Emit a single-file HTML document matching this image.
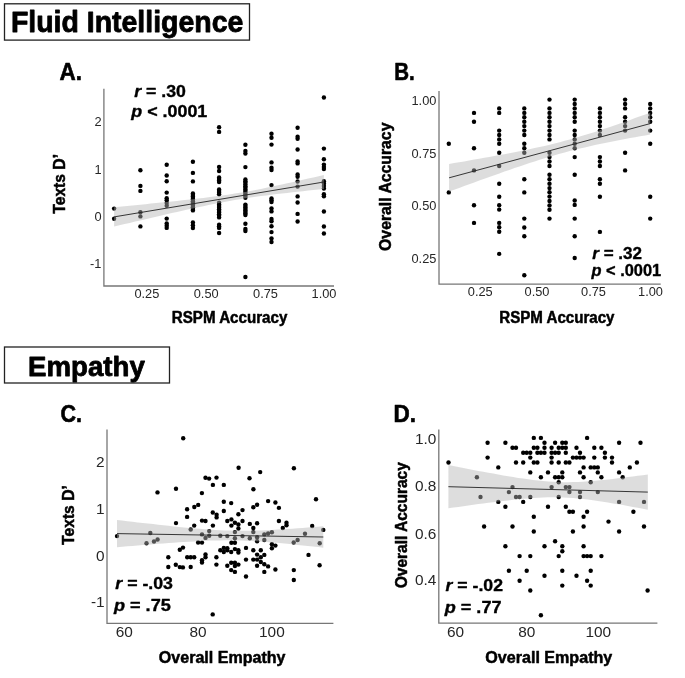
<!DOCTYPE html>
<html><head><meta charset="utf-8"><title>Fluid Intelligence and Empathy</title>
<style>
html,body{margin:0;padding:0;background:#fff;}
body{width:685px;height:678px;overflow:hidden;}
svg{display:block;}
text{white-space:pre;}
</style></head>
<body>
<svg width="685" height="678" viewBox="0 0 685 678">
<rect width="685" height="678" fill="#fff"/>
<rect x="4.5" y="3.8" width="245" height="36.3" fill="none" stroke="#222" stroke-width="1.3"/>
<text x="10.9" y="32.4" font-size="29" font-family="Liberation Sans, Arial, sans-serif" font-weight="bold" stroke="#000" stroke-linejoin="round" stroke-width="0.8" fill="#000" text-anchor="start" textLength="232.4" lengthAdjust="spacingAndGlyphs" >Fluid Intelligence</text>
<rect x="4.5" y="347" width="165" height="36" fill="none" stroke="#222" stroke-width="1.3"/>
<text x="28.0" y="375.5" font-size="28" font-family="Liberation Sans, Arial, sans-serif" font-weight="bold" stroke="#000" stroke-linejoin="round" stroke-width="0.8" fill="#000" text-anchor="start" textLength="116.8" lengthAdjust="spacingAndGlyphs" >Empathy</text>
<text x="59.4" y="80.4" font-size="23" font-family="Liberation Sans, Arial, sans-serif" font-weight="bold" stroke="#000" stroke-linejoin="round" stroke-width="0.6" fill="#000" text-anchor="start" textLength="22.5" lengthAdjust="spacingAndGlyphs" >A.</text>
<text x="394.2" y="80.2" font-size="23" font-family="Liberation Sans, Arial, sans-serif" font-weight="bold" stroke="#000" stroke-linejoin="round" stroke-width="0.6" fill="#000" text-anchor="start" textLength="20.5" lengthAdjust="spacingAndGlyphs" >B.</text>
<text x="60.5" y="422.3" font-size="23" font-family="Liberation Sans, Arial, sans-serif" font-weight="bold" stroke="#000" stroke-linejoin="round" stroke-width="0.6" fill="#000" text-anchor="start" textLength="21.5" lengthAdjust="spacingAndGlyphs" >C.</text>
<text x="393.4" y="422.3" font-size="23" font-family="Liberation Sans, Arial, sans-serif" font-weight="bold" stroke="#000" stroke-linejoin="round" stroke-width="0.6" fill="#000" text-anchor="start" textLength="22.5" lengthAdjust="spacingAndGlyphs" >D.</text>
<path d="M103.9,88.7 L103.9,286.0 L334,286.0" fill="none" stroke="#777777" stroke-width="1.3"/>
<g fill="#000">
<circle cx="114.1" cy="208.6" r="2.2"/>
<circle cx="114.1" cy="218.8" r="2.2"/>
<circle cx="140.4" cy="170.2" r="2.2"/>
<circle cx="140.4" cy="185.9" r="2.2"/>
<circle cx="140.4" cy="190.9" r="2.2"/>
<circle cx="140.4" cy="212.3" r="2.2"/>
<circle cx="140.4" cy="216.4" r="2.2"/>
<circle cx="140.4" cy="226.4" r="2.2"/>
<circle cx="166.7" cy="164.8" r="2.2"/>
<circle cx="166.7" cy="175.5" r="2.2"/>
<circle cx="166.7" cy="181.2" r="2.2"/>
<circle cx="166.7" cy="192.6" r="2.2"/>
<circle cx="166.7" cy="198.3" r="2.2"/>
<circle cx="166.7" cy="200.2" r="2.2"/>
<circle cx="166.7" cy="202.9" r="2.2"/>
<circle cx="166.7" cy="205.8" r="2.2"/>
<circle cx="166.7" cy="218.6" r="2.2"/>
<circle cx="166.7" cy="223.5" r="2.2"/>
<circle cx="166.7" cy="225.7" r="2.2"/>
<circle cx="166.7" cy="227.9" r="2.2"/>
<circle cx="192.9" cy="161.8" r="2.2"/>
<circle cx="192.9" cy="172.9" r="2.2"/>
<circle cx="192.9" cy="181.4" r="2.2"/>
<circle cx="192.9" cy="193.5" r="2.2"/>
<circle cx="192.9" cy="195.0" r="2.2"/>
<circle cx="192.9" cy="196.6" r="2.2"/>
<circle cx="192.9" cy="198.1" r="2.2"/>
<circle cx="192.9" cy="199.6" r="2.2"/>
<circle cx="192.9" cy="201.2" r="2.2"/>
<circle cx="192.9" cy="202.7" r="2.2"/>
<circle cx="192.9" cy="204.3" r="2.2"/>
<circle cx="192.9" cy="205.8" r="2.2"/>
<circle cx="192.9" cy="207.3" r="2.2"/>
<circle cx="192.9" cy="208.9" r="2.2"/>
<circle cx="192.9" cy="210.4" r="2.2"/>
<circle cx="192.9" cy="222.5" r="2.2"/>
<circle cx="192.9" cy="225.2" r="2.2"/>
<circle cx="192.9" cy="228.0" r="2.2"/>
<circle cx="219.1" cy="127.2" r="2.2"/>
<circle cx="219.1" cy="131.9" r="2.2"/>
<circle cx="219.1" cy="167.0" r="2.2"/>
<circle cx="219.1" cy="171.0" r="2.2"/>
<circle cx="219.1" cy="177.5" r="2.2"/>
<circle cx="219.1" cy="179.0" r="2.2"/>
<circle cx="219.1" cy="180.6" r="2.2"/>
<circle cx="219.1" cy="182.1" r="2.2"/>
<circle cx="219.1" cy="189.4" r="2.2"/>
<circle cx="219.1" cy="191.0" r="2.2"/>
<circle cx="219.1" cy="192.7" r="2.2"/>
<circle cx="219.1" cy="194.3" r="2.2"/>
<circle cx="219.1" cy="202.8" r="2.2"/>
<circle cx="219.1" cy="204.4" r="2.2"/>
<circle cx="219.1" cy="206.0" r="2.2"/>
<circle cx="219.1" cy="207.7" r="2.2"/>
<circle cx="219.1" cy="209.3" r="2.2"/>
<circle cx="219.1" cy="210.9" r="2.2"/>
<circle cx="219.1" cy="212.5" r="2.2"/>
<circle cx="219.1" cy="214.2" r="2.2"/>
<circle cx="219.1" cy="215.8" r="2.2"/>
<circle cx="219.1" cy="217.4" r="2.2"/>
<circle cx="219.1" cy="224.7" r="2.2"/>
<circle cx="219.1" cy="226.3" r="2.2"/>
<circle cx="219.1" cy="227.9" r="2.2"/>
<circle cx="219.1" cy="233.0" r="2.2"/>
<circle cx="245.4" cy="144.8" r="2.2"/>
<circle cx="245.4" cy="151.0" r="2.2"/>
<circle cx="245.4" cy="153.5" r="2.2"/>
<circle cx="245.4" cy="167.1" r="2.2"/>
<circle cx="245.4" cy="179.5" r="2.2"/>
<circle cx="245.4" cy="181.2" r="2.2"/>
<circle cx="245.4" cy="182.8" r="2.2"/>
<circle cx="245.4" cy="184.5" r="2.2"/>
<circle cx="245.4" cy="186.2" r="2.2"/>
<circle cx="245.4" cy="187.8" r="2.2"/>
<circle cx="245.4" cy="189.5" r="2.2"/>
<circle cx="245.4" cy="191.1" r="2.2"/>
<circle cx="245.4" cy="192.8" r="2.2"/>
<circle cx="245.4" cy="194.5" r="2.2"/>
<circle cx="245.4" cy="196.1" r="2.2"/>
<circle cx="245.4" cy="197.8" r="2.2"/>
<circle cx="245.4" cy="204.6" r="2.2"/>
<circle cx="245.4" cy="206.1" r="2.2"/>
<circle cx="245.4" cy="207.6" r="2.2"/>
<circle cx="245.4" cy="209.1" r="2.2"/>
<circle cx="245.4" cy="210.5" r="2.2"/>
<circle cx="245.4" cy="212.0" r="2.2"/>
<circle cx="245.4" cy="213.5" r="2.2"/>
<circle cx="245.4" cy="215.0" r="2.2"/>
<circle cx="245.4" cy="223.7" r="2.2"/>
<circle cx="245.4" cy="229.0" r="2.2"/>
<circle cx="245.4" cy="231.0" r="2.2"/>
<circle cx="245.4" cy="277.0" r="2.2"/>
<circle cx="271.5" cy="133.8" r="2.2"/>
<circle cx="271.5" cy="137.8" r="2.2"/>
<circle cx="271.5" cy="144.6" r="2.2"/>
<circle cx="271.5" cy="162.4" r="2.2"/>
<circle cx="271.5" cy="167.8" r="2.2"/>
<circle cx="271.5" cy="170.0" r="2.2"/>
<circle cx="271.5" cy="185.1" r="2.2"/>
<circle cx="271.5" cy="198.4" r="2.2"/>
<circle cx="271.5" cy="200.2" r="2.2"/>
<circle cx="271.5" cy="202.1" r="2.2"/>
<circle cx="271.5" cy="208.4" r="2.2"/>
<circle cx="271.5" cy="211.4" r="2.2"/>
<circle cx="271.5" cy="219.0" r="2.2"/>
<circle cx="271.5" cy="221.3" r="2.2"/>
<circle cx="271.5" cy="226.3" r="2.2"/>
<circle cx="271.5" cy="232.1" r="2.2"/>
<circle cx="271.5" cy="238.4" r="2.2"/>
<circle cx="271.5" cy="242.0" r="2.2"/>
<circle cx="297.6" cy="127.7" r="2.2"/>
<circle cx="297.6" cy="136.7" r="2.2"/>
<circle cx="297.6" cy="138.7" r="2.2"/>
<circle cx="297.6" cy="149.5" r="2.2"/>
<circle cx="297.6" cy="161.5" r="2.2"/>
<circle cx="297.6" cy="163.4" r="2.2"/>
<circle cx="297.6" cy="174.4" r="2.2"/>
<circle cx="297.6" cy="176.7" r="2.2"/>
<circle cx="297.6" cy="181.5" r="2.2"/>
<circle cx="297.6" cy="186.6" r="2.2"/>
<circle cx="297.6" cy="196.4" r="2.2"/>
<circle cx="297.6" cy="202.5" r="2.2"/>
<circle cx="297.6" cy="213.9" r="2.2"/>
<circle cx="297.6" cy="221.5" r="2.2"/>
<circle cx="323.9" cy="97.5" r="2.2"/>
<circle cx="323.9" cy="148.6" r="2.2"/>
<circle cx="323.9" cy="159.3" r="2.2"/>
<circle cx="323.9" cy="164.6" r="2.2"/>
<circle cx="323.9" cy="166.9" r="2.2"/>
<circle cx="323.9" cy="169.1" r="2.2"/>
<circle cx="323.9" cy="181.3" r="2.2"/>
<circle cx="323.9" cy="183.6" r="2.2"/>
<circle cx="323.9" cy="185.9" r="2.2"/>
<circle cx="323.9" cy="188.5" r="2.2"/>
<circle cx="323.9" cy="194.2" r="2.2"/>
<circle cx="323.9" cy="196.3" r="2.2"/>
<circle cx="323.9" cy="211.5" r="2.2"/>
<circle cx="323.9" cy="226.5" r="2.2"/>
<circle cx="323.9" cy="233.5" r="2.2"/>
</g>
<path d="M114.1,207.3 L119.3,206.7 L124.6,206.2 L129.8,205.7 L135.1,205.2 L140.3,204.7 L145.6,204.2 L150.8,203.6 L156.1,203.1 L161.3,202.6 L166.6,202.0 L171.8,201.5 L177.0,200.9 L182.3,200.3 L187.5,199.8 L192.8,199.2 L198.0,198.6 L203.3,198.0 L208.5,197.3 L213.8,196.6 L219.0,195.9 L224.2,195.2 L229.5,194.4 L234.7,193.6 L240.0,192.8 L245.2,191.9 L250.5,190.9 L255.7,189.9 L261.0,188.9 L266.2,187.8 L271.4,186.7 L276.7,185.6 L281.9,184.5 L287.2,183.3 L292.4,182.2 L297.7,181.0 L302.9,179.8 L308.2,178.6 L313.4,177.4 L318.7,176.2 L323.9,175.0 L323.9,189.0 L318.7,189.5 L313.4,190.1 L308.2,190.6 L302.9,191.2 L297.7,191.7 L292.4,192.3 L287.2,192.9 L281.9,193.5 L276.7,194.1 L271.4,194.7 L266.2,195.4 L261.0,196.1 L255.7,196.8 L250.5,197.5 L245.2,198.3 L240.0,199.2 L234.7,200.0 L229.5,201.0 L224.2,201.9 L219.0,203.0 L213.8,204.0 L208.5,205.1 L203.3,206.2 L198.0,207.3 L192.8,208.4 L187.5,209.6 L182.3,210.8 L177.0,212.0 L171.8,213.1 L166.6,214.3 L161.3,215.5 L156.1,216.7 L150.8,218.0 L145.6,219.2 L140.3,220.4 L135.1,221.6 L129.8,222.9 L124.6,224.1 L119.3,225.3 L114.1,226.5Z" fill="#b3b3b3" fill-opacity="0.45"/>
<line x1="114.1" y1="216.9" x2="323.9" y2="182.0" stroke="#222" stroke-width="0.9"/>
<text x="101.5" y="126.3" font-size="12.8" font-family="Liberation Sans, Arial, sans-serif" fill="#262626" text-anchor="end" >2</text>
<text x="101.5" y="173.70000000000002" font-size="12.8" font-family="Liberation Sans, Arial, sans-serif" fill="#262626" text-anchor="end" >1</text>
<text x="101.5" y="221.0" font-size="12.8" font-family="Liberation Sans, Arial, sans-serif" fill="#262626" text-anchor="end" >0</text>
<text x="101.5" y="268.3" font-size="12.8" font-family="Liberation Sans, Arial, sans-serif" fill="#262626" text-anchor="end" >-1</text>
<text x="146.9" y="297.9" font-size="12.8" font-family="Liberation Sans, Arial, sans-serif" fill="#262626" text-anchor="middle" >0.25</text>
<text x="206.2" y="297.9" font-size="12.8" font-family="Liberation Sans, Arial, sans-serif" fill="#262626" text-anchor="middle" >0.50</text>
<text x="265.5" y="297.9" font-size="12.8" font-family="Liberation Sans, Arial, sans-serif" fill="#262626" text-anchor="middle" >0.75</text>
<text x="324.0" y="297.9" font-size="12.8" font-family="Liberation Sans, Arial, sans-serif" fill="#262626" text-anchor="middle" >1.00</text>
<text x="171.8" y="323.3" font-size="16" font-family="Liberation Sans, Arial, sans-serif" font-weight="bold" stroke="#000" stroke-linejoin="round" stroke-width="0.5" fill="#000" text-anchor="start" textLength="115.5" lengthAdjust="spacingAndGlyphs" >RSPM Accuracy</text>
<g transform="translate(65,213.7) rotate(-90)">
<text x="0" y="0" font-size="16" font-family="Liberation Sans, Arial, sans-serif" font-weight="bold" stroke="#000" stroke-linejoin="round" stroke-width="0.5" fill="#000" text-anchor="start" textLength="59.7" lengthAdjust="spacingAndGlyphs" >Texts D’</text>
</g>
<text x="134.2" y="97.1" font-size="16" font-family="Liberation Sans, Arial, sans-serif" font-weight="bold" stroke="#000" stroke-linejoin="round" stroke-width="0.35" textLength="51.6" lengthAdjust="spacingAndGlyphs"><tspan font-style="italic">r</tspan> = .30</text>
<text x="131.3" y="117.2" font-size="16" font-family="Liberation Sans, Arial, sans-serif" font-weight="bold" stroke="#000" stroke-linejoin="round" stroke-width="0.35" textLength="76" lengthAdjust="spacingAndGlyphs"><tspan font-style="italic">p</tspan> &lt; .0001</text>
<path d="M439,90.9 L439,284.2 L660.7,284.2" fill="none" stroke="#777777" stroke-width="1.3"/>
<g fill="#000">
<circle cx="448.8" cy="143.8" r="2.2"/>
<circle cx="448.8" cy="192.4" r="2.2"/>
<circle cx="474.0" cy="112.9" r="2.2"/>
<circle cx="474.0" cy="121.7" r="2.2"/>
<circle cx="474.0" cy="148.3" r="2.2"/>
<circle cx="474.0" cy="170.4" r="2.2"/>
<circle cx="474.0" cy="205.2" r="2.2"/>
<circle cx="474.0" cy="222.9" r="2.2"/>
<circle cx="499.2" cy="108.4" r="2.2"/>
<circle cx="499.2" cy="112.9" r="2.2"/>
<circle cx="499.2" cy="130.6" r="2.2"/>
<circle cx="499.2" cy="135.0" r="2.2"/>
<circle cx="499.2" cy="139.4" r="2.2"/>
<circle cx="499.2" cy="143.8" r="2.2"/>
<circle cx="499.2" cy="152.7" r="2.2"/>
<circle cx="499.2" cy="166.0" r="2.2"/>
<circle cx="499.2" cy="183.7" r="2.2"/>
<circle cx="499.2" cy="196.8" r="2.2"/>
<circle cx="499.2" cy="205.2" r="2.2"/>
<circle cx="499.2" cy="209.6" r="2.2"/>
<circle cx="499.2" cy="222.9" r="2.2"/>
<circle cx="499.2" cy="227.3" r="2.2"/>
<circle cx="499.2" cy="231.8" r="2.2"/>
<circle cx="499.2" cy="253.9" r="2.2"/>
<circle cx="524.3" cy="108.4" r="2.2"/>
<circle cx="524.3" cy="112.9" r="2.2"/>
<circle cx="524.3" cy="117.3" r="2.2"/>
<circle cx="524.3" cy="121.7" r="2.2"/>
<circle cx="524.3" cy="126.1" r="2.2"/>
<circle cx="524.3" cy="130.6" r="2.2"/>
<circle cx="524.3" cy="135.0" r="2.2"/>
<circle cx="524.3" cy="143.8" r="2.2"/>
<circle cx="524.3" cy="148.3" r="2.2"/>
<circle cx="524.3" cy="152.7" r="2.2"/>
<circle cx="524.3" cy="179.2" r="2.2"/>
<circle cx="524.3" cy="192.4" r="2.2"/>
<circle cx="524.3" cy="218.6" r="2.2"/>
<circle cx="524.3" cy="227.5" r="2.2"/>
<circle cx="524.3" cy="236.3" r="2.2"/>
<circle cx="524.3" cy="275.3" r="2.2"/>
<circle cx="549.5" cy="99.6" r="2.2"/>
<circle cx="549.5" cy="108.4" r="2.2"/>
<circle cx="549.5" cy="112.9" r="2.2"/>
<circle cx="549.5" cy="117.3" r="2.2"/>
<circle cx="549.5" cy="121.7" r="2.2"/>
<circle cx="549.5" cy="126.1" r="2.2"/>
<circle cx="549.5" cy="130.6" r="2.2"/>
<circle cx="549.5" cy="135.0" r="2.2"/>
<circle cx="549.5" cy="139.4" r="2.2"/>
<circle cx="549.5" cy="152.7" r="2.2"/>
<circle cx="549.5" cy="157.1" r="2.2"/>
<circle cx="549.5" cy="161.5" r="2.2"/>
<circle cx="549.5" cy="166.0" r="2.2"/>
<circle cx="549.5" cy="174.8" r="2.2"/>
<circle cx="549.5" cy="179.2" r="2.2"/>
<circle cx="549.5" cy="183.7" r="2.2"/>
<circle cx="549.5" cy="188.1" r="2.2"/>
<circle cx="549.5" cy="192.3" r="2.2"/>
<circle cx="549.5" cy="196.6" r="2.2"/>
<circle cx="549.5" cy="201.0" r="2.2"/>
<circle cx="549.5" cy="205.4" r="2.2"/>
<circle cx="549.5" cy="209.8" r="2.2"/>
<circle cx="549.5" cy="218.6" r="2.2"/>
<circle cx="574.7" cy="99.6" r="2.2"/>
<circle cx="574.7" cy="104.0" r="2.2"/>
<circle cx="574.7" cy="108.4" r="2.2"/>
<circle cx="574.7" cy="112.9" r="2.2"/>
<circle cx="574.7" cy="117.3" r="2.2"/>
<circle cx="574.7" cy="121.7" r="2.2"/>
<circle cx="574.7" cy="130.6" r="2.2"/>
<circle cx="574.7" cy="135.0" r="2.2"/>
<circle cx="574.7" cy="139.4" r="2.2"/>
<circle cx="574.7" cy="143.8" r="2.2"/>
<circle cx="574.7" cy="148.3" r="2.2"/>
<circle cx="574.7" cy="157.1" r="2.2"/>
<circle cx="574.7" cy="174.8" r="2.2"/>
<circle cx="574.7" cy="200.5" r="2.2"/>
<circle cx="574.7" cy="204.9" r="2.2"/>
<circle cx="574.7" cy="218.6" r="2.2"/>
<circle cx="574.7" cy="236.3" r="2.2"/>
<circle cx="574.7" cy="258.0" r="2.2"/>
<circle cx="599.9" cy="108.4" r="2.2"/>
<circle cx="599.9" cy="112.9" r="2.2"/>
<circle cx="599.9" cy="117.3" r="2.2"/>
<circle cx="599.9" cy="121.7" r="2.2"/>
<circle cx="599.9" cy="126.1" r="2.2"/>
<circle cx="599.9" cy="130.6" r="2.2"/>
<circle cx="599.9" cy="135.0" r="2.2"/>
<circle cx="599.9" cy="157.1" r="2.2"/>
<circle cx="599.9" cy="161.5" r="2.2"/>
<circle cx="599.9" cy="166.0" r="2.2"/>
<circle cx="599.9" cy="179.2" r="2.2"/>
<circle cx="599.9" cy="183.7" r="2.2"/>
<circle cx="599.9" cy="196.8" r="2.2"/>
<circle cx="599.9" cy="231.9" r="2.2"/>
<circle cx="625.1" cy="99.6" r="2.2"/>
<circle cx="625.1" cy="104.0" r="2.2"/>
<circle cx="625.1" cy="108.4" r="2.2"/>
<circle cx="625.1" cy="117.3" r="2.2"/>
<circle cx="625.1" cy="121.7" r="2.2"/>
<circle cx="625.1" cy="126.1" r="2.2"/>
<circle cx="625.1" cy="130.6" r="2.2"/>
<circle cx="625.1" cy="152.7" r="2.2"/>
<circle cx="625.1" cy="170.4" r="2.2"/>
<circle cx="650.2" cy="104.0" r="2.2"/>
<circle cx="650.2" cy="108.4" r="2.2"/>
<circle cx="650.2" cy="112.9" r="2.2"/>
<circle cx="650.2" cy="117.3" r="2.2"/>
<circle cx="650.2" cy="121.7" r="2.2"/>
<circle cx="650.2" cy="130.6" r="2.2"/>
<circle cx="650.2" cy="143.8" r="2.2"/>
<circle cx="650.2" cy="196.8" r="2.2"/>
<circle cx="650.2" cy="218.6" r="2.2"/>
</g>
<path d="M449.1,164.0 L454.1,163.1 L459.2,162.3 L464.2,161.4 L469.2,160.5 L474.2,159.6 L479.3,158.7 L484.3,157.8 L489.3,156.9 L494.3,156.0 L499.4,155.1 L504.4,154.2 L509.4,153.2 L514.5,152.2 L519.5,151.2 L524.5,150.2 L529.5,149.2 L534.6,148.1 L539.6,147.0 L544.6,145.9 L549.7,144.7 L554.7,143.4 L559.7,142.2 L564.7,140.8 L569.8,139.5 L574.8,138.0 L579.8,136.6 L584.8,135.0 L589.9,133.5 L594.9,131.9 L599.9,130.2 L605.0,128.6 L610.0,126.9 L615.0,125.2 L620.0,123.4 L625.1,121.7 L630.1,119.9 L635.1,118.1 L640.1,116.3 L645.2,114.5 L650.2,112.7 L650.2,134.5 L645.2,135.4 L640.1,136.3 L635.1,137.2 L630.1,138.1 L625.1,139.1 L620.0,140.0 L615.0,141.0 L610.0,142.0 L605.0,143.0 L599.9,144.1 L594.9,145.1 L589.9,146.3 L584.8,147.4 L579.8,148.6 L574.8,149.8 L569.8,151.1 L564.7,152.4 L559.7,153.8 L554.7,155.3 L549.7,156.7 L544.6,158.3 L539.6,159.8 L534.6,161.4 L529.5,163.1 L524.5,164.7 L519.5,166.4 L514.5,168.1 L509.4,169.9 L504.4,171.6 L499.4,173.4 L494.3,175.2 L489.3,177.0 L484.3,178.8 L479.3,180.6 L474.2,182.4 L469.2,184.2 L464.2,186.1 L459.2,187.9 L454.1,189.7 L449.1,191.6Z" fill="#b3b3b3" fill-opacity="0.45"/>
<line x1="449.1" y1="177.8" x2="650.2" y2="123.6" stroke="#222" stroke-width="0.9"/>
<text x="436.4" y="105.0" font-size="12.8" font-family="Liberation Sans, Arial, sans-serif" fill="#262626" text-anchor="end" >1.00</text>
<text x="436.4" y="157.70000000000002" font-size="12.8" font-family="Liberation Sans, Arial, sans-serif" fill="#262626" text-anchor="end" >0.75</text>
<text x="436.4" y="210.4" font-size="12.8" font-family="Liberation Sans, Arial, sans-serif" fill="#262626" text-anchor="end" >0.50</text>
<text x="436.4" y="263.1" font-size="12.8" font-family="Liberation Sans, Arial, sans-serif" fill="#262626" text-anchor="end" >0.25</text>
<text x="480.3" y="295.8" font-size="12.8" font-family="Liberation Sans, Arial, sans-serif" fill="#262626" text-anchor="middle" >0.25</text>
<text x="537.0" y="295.8" font-size="12.8" font-family="Liberation Sans, Arial, sans-serif" fill="#262626" text-anchor="middle" >0.50</text>
<text x="593.5" y="295.8" font-size="12.8" font-family="Liberation Sans, Arial, sans-serif" fill="#262626" text-anchor="middle" >0.75</text>
<text x="650.5" y="295.8" font-size="12.8" font-family="Liberation Sans, Arial, sans-serif" fill="#262626" text-anchor="middle" >1.00</text>
<text x="499.3" y="322.9" font-size="16" font-family="Liberation Sans, Arial, sans-serif" font-weight="bold" stroke="#000" stroke-linejoin="round" stroke-width="0.5" fill="#000" text-anchor="start" textLength="115.2" lengthAdjust="spacingAndGlyphs" >RSPM Accuracy</text>
<g transform="translate(391.1,250.9) rotate(-90)">
<text x="0" y="0" font-size="16" font-family="Liberation Sans, Arial, sans-serif" font-weight="bold" stroke="#000" stroke-linejoin="round" stroke-width="0.5" fill="#000" text-anchor="start" textLength="128.3" lengthAdjust="spacingAndGlyphs" >Overall Accuracy</text>
</g>
<text x="592.3" y="258.6" font-size="16" font-family="Liberation Sans, Arial, sans-serif" font-weight="bold" stroke="#000" stroke-linejoin="round" stroke-width="0.35" textLength="49.7" lengthAdjust="spacingAndGlyphs"><tspan font-style="italic">r</tspan> = .32</text>
<text x="591.5" y="276.4" font-size="16" font-family="Liberation Sans, Arial, sans-serif" font-weight="bold" stroke="#000" stroke-linejoin="round" stroke-width="0.35" textLength="69.7" lengthAdjust="spacingAndGlyphs"><tspan font-style="italic">p</tspan> &lt; .0001</text>
<path d="M107.0,429.6 L107.0,623.4 L333.4,623.4" fill="none" stroke="#777777" stroke-width="1.3"/>
<g fill="#000">
<circle cx="183.2" cy="438.2" r="2.2"/>
<circle cx="157.5" cy="492.4" r="2.2"/>
<circle cx="176.0" cy="488.8" r="2.2"/>
<circle cx="205.5" cy="477.7" r="2.2"/>
<circle cx="209.1" cy="478.6" r="2.2"/>
<circle cx="216.5" cy="477.6" r="2.2"/>
<circle cx="212.9" cy="484.9" r="2.2"/>
<circle cx="223.8" cy="484.9" r="2.2"/>
<circle cx="238.6" cy="467.7" r="2.2"/>
<circle cx="249.5" cy="478.2" r="2.2"/>
<circle cx="260.2" cy="472.1" r="2.2"/>
<circle cx="253.4" cy="489.2" r="2.2"/>
<circle cx="293.9" cy="468.3" r="2.2"/>
<circle cx="201.9" cy="493.1" r="2.2"/>
<circle cx="198.2" cy="504.9" r="2.2"/>
<circle cx="194.3" cy="507.0" r="2.2"/>
<circle cx="187.1" cy="509.3" r="2.2"/>
<circle cx="187.1" cy="516.9" r="2.2"/>
<circle cx="212.8" cy="512.5" r="2.2"/>
<circle cx="216.6" cy="514.8" r="2.2"/>
<circle cx="216.6" cy="517.4" r="2.2"/>
<circle cx="223.8" cy="501.7" r="2.2"/>
<circle cx="231.2" cy="503.1" r="2.2"/>
<circle cx="223.8" cy="511.0" r="2.2"/>
<circle cx="242.5" cy="510.1" r="2.2"/>
<circle cx="238.4" cy="514.3" r="2.2"/>
<circle cx="253.3" cy="507.2" r="2.2"/>
<circle cx="257.1" cy="504.8" r="2.2"/>
<circle cx="202.0" cy="520.6" r="2.2"/>
<circle cx="205.5" cy="521.0" r="2.2"/>
<circle cx="227.3" cy="521.0" r="2.2"/>
<circle cx="231.4" cy="519.4" r="2.2"/>
<circle cx="234.9" cy="522.7" r="2.2"/>
<circle cx="238.4" cy="524.5" r="2.2"/>
<circle cx="242.5" cy="521.0" r="2.2"/>
<circle cx="231.4" cy="525.6" r="2.2"/>
<circle cx="238.4" cy="528.5" r="2.2"/>
<circle cx="194.2" cy="525.6" r="2.2"/>
<circle cx="212.9" cy="525.6" r="2.2"/>
<circle cx="249.8" cy="523.9" r="2.2"/>
<circle cx="257.1" cy="523.2" r="2.2"/>
<circle cx="253.3" cy="528.0" r="2.2"/>
<circle cx="176.0" cy="523.1" r="2.2"/>
<circle cx="117.0" cy="536.1" r="2.2"/>
<circle cx="150.3" cy="533.0" r="2.2"/>
<circle cx="157.6" cy="539.5" r="2.2"/>
<circle cx="154.0" cy="541.5" r="2.2"/>
<circle cx="146.5" cy="543.3" r="2.2"/>
<circle cx="190.7" cy="529.5" r="2.2"/>
<circle cx="209.2" cy="531.1" r="2.2"/>
<circle cx="202.0" cy="534.4" r="2.2"/>
<circle cx="209.2" cy="535.8" r="2.2"/>
<circle cx="205.5" cy="537.9" r="2.2"/>
<circle cx="220.3" cy="535.8" r="2.2"/>
<circle cx="227.3" cy="536.1" r="2.2"/>
<circle cx="234.9" cy="532.1" r="2.2"/>
<circle cx="234.9" cy="538.2" r="2.2"/>
<circle cx="242.5" cy="536.1" r="2.2"/>
<circle cx="249.8" cy="538.2" r="2.2"/>
<circle cx="253.3" cy="532.1" r="2.2"/>
<circle cx="257.1" cy="537.3" r="2.2"/>
<circle cx="257.1" cy="541.2" r="2.2"/>
<circle cx="198.1" cy="542.5" r="2.2"/>
<circle cx="202.0" cy="542.6" r="2.2"/>
<circle cx="231.4" cy="542.8" r="2.2"/>
<circle cx="234.9" cy="542.8" r="2.2"/>
<circle cx="268.1" cy="501.1" r="2.2"/>
<circle cx="275.4" cy="502.5" r="2.2"/>
<circle cx="278.9" cy="507.9" r="2.2"/>
<circle cx="316.0" cy="499.3" r="2.2"/>
<circle cx="278.9" cy="521.0" r="2.2"/>
<circle cx="286.5" cy="522.7" r="2.2"/>
<circle cx="286.5" cy="525.3" r="2.2"/>
<circle cx="282.8" cy="528.0" r="2.2"/>
<circle cx="312.2" cy="526.0" r="2.2"/>
<circle cx="323.3" cy="529.9" r="2.2"/>
<circle cx="264.3" cy="534.4" r="2.2"/>
<circle cx="268.1" cy="533.5" r="2.2"/>
<circle cx="271.9" cy="532.3" r="2.2"/>
<circle cx="264.3" cy="540.0" r="2.2"/>
<circle cx="305.0" cy="533.7" r="2.2"/>
<circle cx="297.6" cy="540.0" r="2.2"/>
<circle cx="293.7" cy="542.5" r="2.2"/>
<circle cx="319.7" cy="543.2" r="2.2"/>
<circle cx="271.9" cy="544.2" r="2.2"/>
<circle cx="275.4" cy="545.6" r="2.2"/>
<circle cx="271.9" cy="548.3" r="2.2"/>
<circle cx="168.3" cy="557.3" r="2.2"/>
<circle cx="168.3" cy="567.0" r="2.2"/>
<circle cx="175.8" cy="564.8" r="2.2"/>
<circle cx="179.8" cy="549.7" r="2.2"/>
<circle cx="183.0" cy="547.6" r="2.2"/>
<circle cx="179.8" cy="567.1" r="2.2"/>
<circle cx="182.9" cy="567.4" r="2.2"/>
<circle cx="190.7" cy="567.0" r="2.2"/>
<circle cx="187.2" cy="557.3" r="2.2"/>
<circle cx="190.7" cy="557.3" r="2.2"/>
<circle cx="194.2" cy="557.3" r="2.2"/>
<circle cx="205.5" cy="554.4" r="2.2"/>
<circle cx="205.5" cy="557.3" r="2.2"/>
<circle cx="202.0" cy="560.2" r="2.2"/>
<circle cx="202.0" cy="562.5" r="2.2"/>
<circle cx="216.4" cy="557.3" r="2.2"/>
<circle cx="216.4" cy="564.6" r="2.2"/>
<circle cx="220.3" cy="550.3" r="2.2"/>
<circle cx="223.8" cy="547.9" r="2.2"/>
<circle cx="223.8" cy="552.0" r="2.2"/>
<circle cx="227.3" cy="548.3" r="2.2"/>
<circle cx="227.3" cy="550.3" r="2.2"/>
<circle cx="231.2" cy="552.0" r="2.2"/>
<circle cx="234.9" cy="549.1" r="2.2"/>
<circle cx="238.4" cy="550.3" r="2.2"/>
<circle cx="238.4" cy="552.6" r="2.2"/>
<circle cx="246.0" cy="547.9" r="2.2"/>
<circle cx="253.3" cy="550.3" r="2.2"/>
<circle cx="257.1" cy="554.6" r="2.2"/>
<circle cx="246.0" cy="559.6" r="2.2"/>
<circle cx="253.3" cy="559.6" r="2.2"/>
<circle cx="257.1" cy="559.6" r="2.2"/>
<circle cx="257.1" cy="565.8" r="2.2"/>
<circle cx="227.3" cy="565.8" r="2.2"/>
<circle cx="231.2" cy="562.8" r="2.2"/>
<circle cx="234.9" cy="562.8" r="2.2"/>
<circle cx="238.4" cy="564.6" r="2.2"/>
<circle cx="234.9" cy="566.0" r="2.2"/>
<circle cx="231.2" cy="570.1" r="2.2"/>
<circle cx="234.9" cy="571.9" r="2.2"/>
<circle cx="246.0" cy="576.5" r="2.2"/>
<circle cx="260.8" cy="550.3" r="2.2"/>
<circle cx="264.3" cy="554.9" r="2.2"/>
<circle cx="260.8" cy="557.3" r="2.2"/>
<circle cx="260.8" cy="562.0" r="2.2"/>
<circle cx="264.3" cy="564.3" r="2.2"/>
<circle cx="268.1" cy="566.4" r="2.2"/>
<circle cx="264.3" cy="571.9" r="2.2"/>
<circle cx="275.4" cy="569.5" r="2.2"/>
<circle cx="293.8" cy="570.1" r="2.2"/>
<circle cx="293.8" cy="580.0" r="2.2"/>
<circle cx="308.5" cy="554.9" r="2.2"/>
<circle cx="319.6" cy="565.2" r="2.2"/>
<circle cx="212.7" cy="614.4" r="2.2"/>
</g>
<path d="M117.0,520.0 L122.2,520.6 L127.3,521.2 L132.5,521.8 L137.6,522.4 L142.8,523.0 L147.9,523.6 L153.1,524.1 L158.3,524.7 L163.4,525.3 L168.6,525.8 L173.7,526.4 L178.9,526.9 L184.0,527.4 L189.2,527.9 L194.4,528.4 L199.5,528.8 L204.7,529.2 L209.8,529.6 L215.0,530.0 L220.2,530.2 L225.3,530.5 L230.5,530.6 L235.6,530.8 L240.8,530.8 L245.9,530.8 L251.1,530.7 L256.3,530.6 L261.4,530.4 L266.6,530.2 L271.7,529.9 L276.9,529.6 L282.0,529.3 L287.2,529.0 L292.4,528.7 L297.5,528.3 L302.7,527.9 L307.8,527.5 L313.0,527.1 L318.1,526.7 L323.3,526.3 L323.3,547.7 L318.1,547.1 L313.0,546.5 L307.8,545.9 L302.7,545.4 L297.5,544.9 L292.4,544.3 L287.2,543.8 L282.0,543.3 L276.9,542.8 L271.7,542.4 L266.6,541.9 L261.4,541.6 L256.3,541.2 L251.1,540.9 L245.9,540.7 L240.8,540.5 L235.6,540.4 L230.5,540.3 L225.3,540.3 L220.2,540.4 L215.0,540.5 L209.8,540.6 L204.7,540.9 L199.5,541.1 L194.4,541.4 L189.2,541.7 L184.0,542.0 L178.9,542.3 L173.7,542.7 L168.6,543.1 L163.4,543.5 L158.3,543.8 L153.1,544.2 L147.9,544.7 L142.8,545.1 L137.6,545.5 L132.5,545.9 L127.3,546.3 L122.2,546.8 L117.0,547.2Z" fill="#b3b3b3" fill-opacity="0.45"/>
<line x1="117" y1="533.6" x2="323.3" y2="537.0" stroke="#222" stroke-width="0.9"/>
<text x="104.6" y="467.09999999999997" font-size="15.4" font-family="Liberation Sans, Arial, sans-serif" fill="#262626" text-anchor="end" >2</text>
<text x="104.6" y="514.0" font-size="15.4" font-family="Liberation Sans, Arial, sans-serif" fill="#262626" text-anchor="end" >1</text>
<text x="104.6" y="560.5" font-size="15.4" font-family="Liberation Sans, Arial, sans-serif" fill="#262626" text-anchor="end" >0</text>
<text x="104.6" y="607.1" font-size="15.4" font-family="Liberation Sans, Arial, sans-serif" fill="#262626" text-anchor="end" >-1</text>
<text x="124.3" y="637.0" font-size="15.4" font-family="Liberation Sans, Arial, sans-serif" fill="#262626" text-anchor="middle" >60</text>
<text x="198.0" y="637.0" font-size="15.4" font-family="Liberation Sans, Arial, sans-serif" fill="#262626" text-anchor="middle" >80</text>
<text x="271.9" y="637.0" font-size="15.4" font-family="Liberation Sans, Arial, sans-serif" fill="#262626" text-anchor="middle" >100</text>
<text x="158.8" y="662.6" font-size="16" font-family="Liberation Sans, Arial, sans-serif" font-weight="bold" stroke="#000" stroke-linejoin="round" stroke-width="0.5" fill="#000" text-anchor="start" textLength="126.7" lengthAdjust="spacingAndGlyphs" >Overall Empathy</text>
<g transform="translate(74.2,544.9) rotate(-90)">
<text x="0" y="0" font-size="16" font-family="Liberation Sans, Arial, sans-serif" font-weight="bold" stroke="#000" stroke-linejoin="round" stroke-width="0.5" fill="#000" text-anchor="start" textLength="59.7" lengthAdjust="spacingAndGlyphs" >Texts D’</text>
</g>
<text x="115.3" y="589.3" font-size="16" font-family="Liberation Sans, Arial, sans-serif" font-weight="bold" stroke="#000" stroke-linejoin="round" stroke-width="0.35" textLength="57.7" lengthAdjust="spacingAndGlyphs"><tspan font-style="italic">r</tspan> = -.03</text>
<text x="113.9" y="611.4" font-size="16" font-family="Liberation Sans, Arial, sans-serif" font-weight="bold" stroke="#000" stroke-linejoin="round" stroke-width="0.35" textLength="56.9" lengthAdjust="spacingAndGlyphs"><tspan font-style="italic">p</tspan> = .75</text>
<path d="M438.8,429.6 L438.8,623.2 L657.4,623.2" fill="none" stroke="#777777" stroke-width="1.3"/>
<g fill="#000">
<circle cx="448.5" cy="462.5" r="2.2"/>
<circle cx="487.6" cy="442.8" r="2.2"/>
<circle cx="505.4" cy="442.8" r="2.2"/>
<circle cx="512.5" cy="447.7" r="2.2"/>
<circle cx="516.0" cy="447.7" r="2.2"/>
<circle cx="487.6" cy="457.6" r="2.2"/>
<circle cx="498.3" cy="467.4" r="2.2"/>
<circle cx="516.0" cy="462.5" r="2.2"/>
<circle cx="476.9" cy="477.3" r="2.2"/>
<circle cx="512.5" cy="487.1" r="2.2"/>
<circle cx="533.8" cy="437.9" r="2.2"/>
<circle cx="540.9" cy="437.9" r="2.2"/>
<circle cx="587.1" cy="437.9" r="2.2"/>
<circle cx="544.5" cy="442.8" r="2.2"/>
<circle cx="555.1" cy="442.8" r="2.2"/>
<circle cx="562.3" cy="442.8" r="2.2"/>
<circle cx="565.8" cy="442.8" r="2.2"/>
<circle cx="619.1" cy="442.8" r="2.2"/>
<circle cx="640.5" cy="442.8" r="2.2"/>
<circle cx="533.8" cy="447.7" r="2.2"/>
<circle cx="537.4" cy="447.7" r="2.2"/>
<circle cx="544.5" cy="447.7" r="2.2"/>
<circle cx="551.6" cy="447.7" r="2.2"/>
<circle cx="558.7" cy="447.7" r="2.2"/>
<circle cx="562.3" cy="447.7" r="2.2"/>
<circle cx="565.8" cy="447.7" r="2.2"/>
<circle cx="576.5" cy="447.7" r="2.2"/>
<circle cx="594.3" cy="447.7" r="2.2"/>
<circle cx="601.4" cy="447.7" r="2.2"/>
<circle cx="523.2" cy="452.7" r="2.2"/>
<circle cx="526.7" cy="452.7" r="2.2"/>
<circle cx="530.3" cy="452.7" r="2.2"/>
<circle cx="537.4" cy="452.7" r="2.2"/>
<circle cx="540.9" cy="452.7" r="2.2"/>
<circle cx="544.5" cy="452.7" r="2.2"/>
<circle cx="551.6" cy="452.7" r="2.2"/>
<circle cx="555.1" cy="452.7" r="2.2"/>
<circle cx="558.7" cy="452.7" r="2.2"/>
<circle cx="565.8" cy="452.7" r="2.2"/>
<circle cx="580.0" cy="452.7" r="2.2"/>
<circle cx="604.9" cy="452.7" r="2.2"/>
<circle cx="530.3" cy="457.6" r="2.2"/>
<circle cx="551.6" cy="457.6" r="2.2"/>
<circle cx="572.9" cy="457.6" r="2.2"/>
<circle cx="576.5" cy="457.6" r="2.2"/>
<circle cx="580.0" cy="457.6" r="2.2"/>
<circle cx="583.6" cy="457.6" r="2.2"/>
<circle cx="594.3" cy="457.6" r="2.2"/>
<circle cx="604.9" cy="457.6" r="2.2"/>
<circle cx="612.0" cy="457.6" r="2.2"/>
<circle cx="523.2" cy="462.5" r="2.2"/>
<circle cx="533.8" cy="462.5" r="2.2"/>
<circle cx="537.4" cy="462.5" r="2.2"/>
<circle cx="551.6" cy="462.5" r="2.2"/>
<circle cx="558.7" cy="462.5" r="2.2"/>
<circle cx="565.8" cy="462.5" r="2.2"/>
<circle cx="569.4" cy="462.5" r="2.2"/>
<circle cx="612.0" cy="462.5" r="2.2"/>
<circle cx="636.9" cy="462.5" r="2.2"/>
<circle cx="583.6" cy="467.4" r="2.2"/>
<circle cx="590.7" cy="467.4" r="2.2"/>
<circle cx="594.3" cy="467.4" r="2.2"/>
<circle cx="597.8" cy="467.4" r="2.2"/>
<circle cx="629.8" cy="467.4" r="2.2"/>
<circle cx="530.3" cy="472.4" r="2.2"/>
<circle cx="548.0" cy="472.4" r="2.2"/>
<circle cx="562.3" cy="472.4" r="2.2"/>
<circle cx="580.0" cy="472.4" r="2.2"/>
<circle cx="597.8" cy="472.4" r="2.2"/>
<circle cx="619.1" cy="472.4" r="2.2"/>
<circle cx="540.9" cy="477.3" r="2.2"/>
<circle cx="555.1" cy="477.3" r="2.2"/>
<circle cx="558.7" cy="477.3" r="2.2"/>
<circle cx="562.3" cy="477.3" r="2.2"/>
<circle cx="583.6" cy="477.3" r="2.2"/>
<circle cx="601.4" cy="477.3" r="2.2"/>
<circle cx="622.7" cy="477.3" r="2.2"/>
<circle cx="558.7" cy="482.2" r="2.2"/>
<circle cx="590.7" cy="482.2" r="2.2"/>
<circle cx="551.6" cy="487.1" r="2.2"/>
<circle cx="565.8" cy="487.1" r="2.2"/>
<circle cx="569.4" cy="487.1" r="2.2"/>
<circle cx="508.9" cy="492.1" r="2.2"/>
<circle cx="569.4" cy="492.1" r="2.2"/>
<circle cx="580.0" cy="492.1" r="2.2"/>
<circle cx="597.8" cy="492.1" r="2.2"/>
<circle cx="516.0" cy="497.0" r="2.2"/>
<circle cx="480.5" cy="497.0" r="2.2"/>
<circle cx="519.6" cy="497.0" r="2.2"/>
<circle cx="530.3" cy="497.0" r="2.2"/>
<circle cx="558.7" cy="497.0" r="2.2"/>
<circle cx="580.0" cy="497.0" r="2.2"/>
<circle cx="498.3" cy="501.9" r="2.2"/>
<circle cx="523.2" cy="501.9" r="2.2"/>
<circle cx="619.1" cy="501.9" r="2.2"/>
<circle cx="644.0" cy="501.9" r="2.2"/>
<circle cx="505.4" cy="506.8" r="2.2"/>
<circle cx="548.0" cy="506.8" r="2.2"/>
<circle cx="565.8" cy="506.8" r="2.2"/>
<circle cx="569.4" cy="511.8" r="2.2"/>
<circle cx="572.9" cy="511.8" r="2.2"/>
<circle cx="587.1" cy="511.8" r="2.2"/>
<circle cx="633.4" cy="511.8" r="2.2"/>
<circle cx="533.8" cy="516.7" r="2.2"/>
<circle cx="583.6" cy="516.7" r="2.2"/>
<circle cx="608.5" cy="521.6" r="2.2"/>
<circle cx="484.1" cy="526.5" r="2.2"/>
<circle cx="512.5" cy="526.5" r="2.2"/>
<circle cx="583.6" cy="526.5" r="2.2"/>
<circle cx="644.0" cy="526.5" r="2.2"/>
<circle cx="533.8" cy="531.5" r="2.2"/>
<circle cx="572.9" cy="531.5" r="2.2"/>
<circle cx="619.1" cy="531.5" r="2.2"/>
<circle cx="555.1" cy="541.3" r="2.2"/>
<circle cx="505.4" cy="546.2" r="2.2"/>
<circle cx="544.5" cy="546.2" r="2.2"/>
<circle cx="562.3" cy="546.2" r="2.2"/>
<circle cx="583.6" cy="546.2" r="2.2"/>
<circle cx="562.3" cy="551.2" r="2.2"/>
<circle cx="519.6" cy="556.1" r="2.2"/>
<circle cx="530.3" cy="556.1" r="2.2"/>
<circle cx="558.7" cy="556.1" r="2.2"/>
<circle cx="583.6" cy="556.1" r="2.2"/>
<circle cx="587.1" cy="556.1" r="2.2"/>
<circle cx="590.7" cy="556.1" r="2.2"/>
<circle cx="601.4" cy="556.1" r="2.2"/>
<circle cx="508.9" cy="570.8" r="2.2"/>
<circle cx="526.7" cy="570.8" r="2.2"/>
<circle cx="562.3" cy="570.8" r="2.2"/>
<circle cx="590.7" cy="570.8" r="2.2"/>
<circle cx="544.5" cy="575.8" r="2.2"/>
<circle cx="576.5" cy="575.8" r="2.2"/>
<circle cx="519.6" cy="580.7" r="2.2"/>
<circle cx="587.1" cy="580.7" r="2.2"/>
<circle cx="562.3" cy="585.6" r="2.2"/>
<circle cx="590.7" cy="585.6" r="2.2"/>
<circle cx="530.3" cy="590.5" r="2.2"/>
<circle cx="647.6" cy="590.5" r="2.2"/>
<circle cx="540.9" cy="615.2" r="2.2"/>
</g>
<path d="M448.4,465.1 L453.4,466.1 L458.4,467.1 L463.4,468.0 L468.3,469.0 L473.3,469.9 L478.3,470.9 L483.3,471.8 L488.3,472.7 L493.3,473.6 L498.2,474.5 L503.2,475.4 L508.2,476.2 L513.2,477.1 L518.2,477.9 L523.2,478.6 L528.2,479.3 L533.1,480.0 L538.1,480.6 L543.1,481.1 L548.1,481.5 L553.1,481.8 L558.1,482.1 L563.1,482.2 L568.0,482.2 L573.0,482.1 L578.0,481.9 L583.0,481.7 L588.0,481.3 L593.0,481.0 L597.9,480.5 L602.9,480.0 L607.9,479.5 L612.9,478.9 L617.9,478.3 L622.9,477.7 L627.9,477.1 L632.8,476.5 L637.8,475.8 L642.8,475.2 L647.8,474.5 L647.8,509.7 L642.8,508.8 L637.8,507.8 L632.8,506.9 L627.9,506.0 L622.9,505.1 L617.9,504.2 L612.9,503.4 L607.9,502.6 L602.9,501.8 L597.9,501.0 L593.0,500.3 L588.0,499.6 L583.0,499.0 L578.0,498.5 L573.0,498.0 L568.0,497.7 L563.1,497.4 L558.1,497.3 L553.1,497.2 L548.1,497.3 L543.1,497.5 L538.1,497.7 L533.1,498.0 L528.2,498.4 L523.2,498.8 L518.2,499.3 L513.2,499.8 L508.2,500.4 L503.2,501.0 L498.2,501.6 L493.3,502.2 L488.3,502.8 L483.3,503.5 L478.3,504.1 L473.3,504.8 L468.3,505.5 L463.4,506.2 L458.4,506.9 L453.4,507.6 L448.4,508.3Z" fill="#b3b3b3" fill-opacity="0.45"/>
<line x1="448.4" y1="486.7" x2="647.8" y2="492.1" stroke="#222" stroke-width="0.9"/>
<text x="436.3" y="443.7" font-size="15.4" font-family="Liberation Sans, Arial, sans-serif" fill="#262626" text-anchor="end" >1.0</text>
<text x="436.3" y="491.09999999999997" font-size="15.4" font-family="Liberation Sans, Arial, sans-serif" fill="#262626" text-anchor="end" >0.8</text>
<text x="436.3" y="538.6" font-size="15.4" font-family="Liberation Sans, Arial, sans-serif" fill="#262626" text-anchor="end" >0.6</text>
<text x="436.3" y="585.1999999999999" font-size="15.4" font-family="Liberation Sans, Arial, sans-serif" fill="#262626" text-anchor="end" >0.4</text>
<text x="455.5" y="637.0" font-size="15.4" font-family="Liberation Sans, Arial, sans-serif" fill="#262626" text-anchor="middle" >60</text>
<text x="526.7" y="637.0" font-size="15.4" font-family="Liberation Sans, Arial, sans-serif" fill="#262626" text-anchor="middle" >80</text>
<text x="598.3" y="637.0" font-size="15.4" font-family="Liberation Sans, Arial, sans-serif" fill="#262626" text-anchor="middle" >100</text>
<text x="485.3" y="662.9" font-size="16" font-family="Liberation Sans, Arial, sans-serif" font-weight="bold" stroke="#000" stroke-linejoin="round" stroke-width="0.5" fill="#000" text-anchor="start" textLength="127.0" lengthAdjust="spacingAndGlyphs" >Overall Empathy</text>
<g transform="translate(407.1,588.3) rotate(-90)">
<text x="0" y="0" font-size="16" font-family="Liberation Sans, Arial, sans-serif" font-weight="bold" stroke="#000" stroke-linejoin="round" stroke-width="0.5" fill="#000" text-anchor="start" textLength="126.1" lengthAdjust="spacingAndGlyphs" >Overall Accuracy</text>
</g>
<text x="445.6" y="591.2" font-size="16" font-family="Liberation Sans, Arial, sans-serif" font-weight="bold" stroke="#000" stroke-linejoin="round" stroke-width="0.35" textLength="57.4" lengthAdjust="spacingAndGlyphs"><tspan font-style="italic">r</tspan> = -.02</text>
<text x="444.7" y="612.8" font-size="16" font-family="Liberation Sans, Arial, sans-serif" font-weight="bold" stroke="#000" stroke-linejoin="round" stroke-width="0.35" textLength="56.8" lengthAdjust="spacingAndGlyphs"><tspan font-style="italic">p</tspan> = .77</text>
</svg>
</body></html>
